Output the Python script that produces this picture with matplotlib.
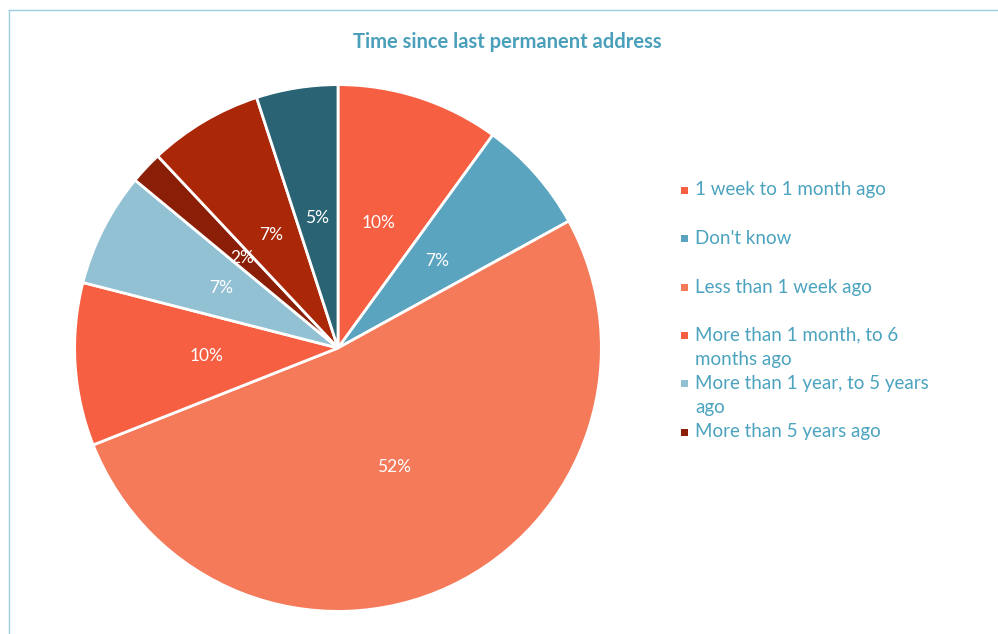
import matplotlib.pyplot as plt
from matplotlib.patches import Rectangle
from matplotlib.lines import Line2D

# data (percent of respondents)
categories = ['1 week to 1 month ago', "Don't know", 'Less than 1 week ago',
              'More than 1 month, to 6 months ago', 'More than 1 year, to 5 years ago',
              'More than 5 years ago', 'More than 6 months, to 1 year ago', 'Never had one']
shares = [10, 7, 52, 10, 7, 2, 7, 5]
colors = ['#F65F42', '#5BA4C0', '#F47A5A', '#F65F42', '#93C1D4',
          '#8A1E06', '#AA2708', '#2A6474']
# the legend in the original only shows the first six entries
legend_lines = ['1 week to 1 month ago', "Don't know", 'Less than 1 week ago',
                'More than 1 month, to 6\nmonths ago', 'More than 1 year, to 5 years\nago',
                'More than 5 years ago']

W, H = 998, 634
plt.rcParams['font.family'] = ['Lato', 'DejaVu Sans']
fig = plt.figure(figsize=(W / 100, H / 100), dpi=100)
fig.patch.set_facecolor('white')

#### pie
cx, cy, r = 338, 348, 266
ax = fig.add_axes([(cx - r) / W, (H - cy - r) / H, 2 * r / W, 2 * r / H])
ax.pie(shares, colors=colors, startangle=90, counterclock=False, radius=1,
       autopct=lambda p: f'{p:.0f}%', pctdistance=0.5,
       wedgeprops=dict(edgecolor='white', linewidth=2),
       textprops=dict(color='white', fontsize=12.5))
ax.set_xlim(-1.01, 1.01)
ax.set_ylim(-1.01, 1.01)
ax.set_aspect('equal')
ax.axis('off')

#### title
fig.text(507 / W, 1 - 42 / H, 'Time since last permanent address', ha='center', va='center',
         fontsize=14.5, fontweight='bold', color='#4A9FBA')

#### legend (drawn by hand to match the layout)
text_col = '#4BA3BF'
ys = [190, 238, 287, 335, 383, 432]
for lab, col, y in zip(legend_lines, colors, ys):
    fig.add_artist(Rectangle((681 / W, 1 - (y + 4) / H), 7 / W, 7 / H,
                             transform=fig.transFigure, facecolor=col, edgecolor='none'))
    for k, part in enumerate(lab.split('\n')):
        fig.text(695 / W, 1 - (y + 24 * k) / H, part, ha='left', va='center',
                 fontsize=13.5, color=text_col)

#### border
border = '#9DCDE0'
fig.add_artist(Line2D([9 / W, 9 / W], [0, 1 - 10 / H], transform=fig.transFigure,
                      color=border, linewidth=1))
fig.add_artist(Line2D([9 / W, 1], [1 - 10 / H, 1 - 10 / H], transform=fig.transFigure,
                      color=border, linewidth=1))

fig.savefig('out.png', dpi=100)
